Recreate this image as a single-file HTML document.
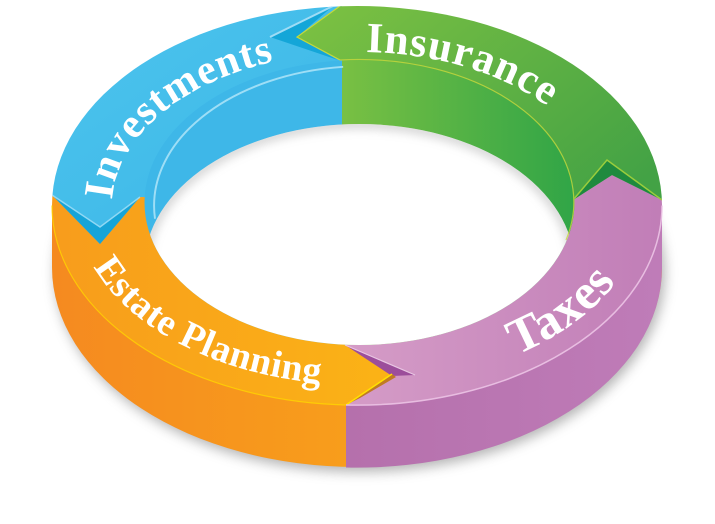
<!DOCTYPE html>
<html><head><meta charset="utf-8"><style>
html,body{margin:0;padding:0;background:#fff;width:715px;height:524px;overflow:hidden}
svg{display:block}
text{font-family:"Liberation Serif",serif;font-weight:bold;fill:#fff}
</style></head><body>
<svg width="715" height="524" viewBox="0 0 715 524" xmlns="http://www.w3.org/2000/svg">
<defs>
<filter id="blur" x="-20%" y="-50%" width="140%" height="200%"><feGaussianBlur stdDeviation="6"/></filter>
<filter id="blur2" x="-20%" y="-50%" width="140%" height="200%"><feGaussianBlur stdDeviation="5"/></filter>
<clipPath id="outer"><ellipse cx="357" cy="205.5" rx="305" ry="199.5"/></clipPath>
<clipPath id="inner"><ellipse cx="359.5" cy="202.5" rx="215" ry="142.5"/></clipPath>
<clipPath id="hole2"><ellipse cx="359.5" cy="266.5" rx="215" ry="142.5"/></clipPath>
<linearGradient id="gBlue" x1="0" y1="0" x2="1" y2="1"><stop offset="0" stop-color="#4fc6ee"/><stop offset="1" stop-color="#3bb6e7"/></linearGradient>
<linearGradient id="gGreen" x1="0" y1="0" x2="1" y2="0.6"><stop offset="0" stop-color="#80c342"/><stop offset="1" stop-color="#43a245"/></linearGradient>
<linearGradient id="gPurple" x1="0" y1="0" x2="1" y2="0"><stop offset="0" stop-color="#d59cc7"/><stop offset="1" stop-color="#bd78b4"/></linearGradient>
<linearGradient id="gOrange" x1="0" y1="0" x2="1" y2="0"><stop offset="0" stop-color="#f7981d"/><stop offset="1" stop-color="#fbb316"/></linearGradient>
<linearGradient id="wOrange" x1="0" y1="0" x2="1" y2="0"><stop offset="0" stop-color="#f58a20"/><stop offset="1" stop-color="#fbb216"/></linearGradient>
<linearGradient id="wPurple" x1="0" y1="0" x2="1" y2="0"><stop offset="0" stop-color="#b570ac"/><stop offset="1" stop-color="#bf7cb8"/></linearGradient>
<linearGradient id="iGreen" x1="0" y1="0" x2="1" y2="0"><stop offset="0" stop-color="#79c043"/><stop offset="1" stop-color="#2ea447"/></linearGradient>
<path id="topPath" d="M 112 206 A 247 154 0 0 1 606 206"/>
<path id="botPath" d="M 76 204 A 284 181 0 0 0 644 204"/>
</defs>

<ellipse cx="360" cy="272" rx="305" ry="200" fill="#777" opacity="0.55" filter="url(#blur)"/>

<path d="M 52 205.5 L 52 267.5 A 305 199.5 0 0 0 662 267.5 L 662 205.5 Z" fill="url(#wOrange)"/>
<path d="M 346 300 L 346 467.5 A 305 199.5 0 0 0 662 267.5 L 662 205.5 Z" fill="url(#wPurple)"/>

<g clip-path="url(#outer)">
  <polygon points="346,200 573,200 612,175 662,200 720,200 720,520 346,520 346,405 392,374 345,345" fill="url(#gPurple)"/>
  <polygon points="-10,195 52,195 100,244 140,197 346,200 345,345 392,374 346,405 346,520 -10,520" fill="url(#gOrange)"/>
  <polygon points="-10,-10 342,-10 342,200 140,197 100,244 52,195 -10,195" fill="url(#gBlue)"/>
  <polygon points="270,37 333,6 297,37 338,60" fill="#14a6d8"/>
  <polygon points="52,195 100,227 140,197 100,244" fill="#16a4d8"/>
  <polyline points="52,195 100,227 140,197" fill="none" stroke="#8fd8f4" stroke-width="1.5"/>
  <polyline points="270,37 333,6" fill="none" stroke="#9fdcf5" stroke-width="2"/>
  <polygon points="340,-10 720,-10 720,200 662,200 612,175 573,200 346,200 340,60 297,37 340,6" fill="url(#gGreen)"/>
  <polyline points="340,6 297,37 340,60" fill="none" stroke="#c6d93a" stroke-width="1.2"/>
  <polygon points="607,160 662,200 612,175 573,200" fill="#1f8a3e"/>
  <polyline points="573,200 607,160 662,200" fill="none" stroke="#9acd3c" stroke-width="1.5"/>
  <polygon points="345,345 415,375 392,376" fill="#9c4e9b"/>
  <polygon points="392,374 346,405 360,398 396,377" fill="#c07a24"/>
  <polyline points="345,345 415,375" fill="none" stroke="#e9c6e3" stroke-width="1.2"/>
  <polyline points="392,374 346,405" fill="none" stroke="#ffe100" stroke-width="1.5"/>
</g>
<path d="M 52 205.5 A 305 199.5 0 0 0 346 405" fill="none" stroke="#ffd600" stroke-width="1.2" opacity="0.8"/>
<path d="M 346 405 A 305 199.5 0 0 0 662 205.5" fill="none" stroke="#ecc4e5" stroke-width="1.5" opacity="0.9"/>

<g clip-path="url(#inner)">
  <rect x="140" y="50" width="202" height="320" fill="#3eb7e8"/>
  <rect x="342" y="50" width="240" height="320" fill="url(#iGreen)"/>
  <g clip-path="url(#hole2)">
    <rect x="0" y="0" width="715" height="524" fill="#fff"/>
    <ellipse cx="359.5" cy="266.5" rx="215" ry="142.5" fill="none" stroke="#999" stroke-width="8" opacity="0.5" filter="url(#blur2)"/>
  </g>
</g>
<path d="M 150 215 A 215 142.5 0 0 1 342 60" fill="none" stroke="#a8e2f7" stroke-width="2" opacity="0.9" transform="translate(8,8) scale(0.98)"/>
<path d="M 340 60 A 215 142.5 0 0 1 566 240" fill="none" stroke="#c8d83c" stroke-width="1.2" opacity="0.8"/>

<text font-size="42" letter-spacing="1"><textPath href="#topPath" startOffset="6">Investments</textPath></text>
<text font-size="43" letter-spacing="1"><textPath href="#topPath" startOffset="326">Insurance</textPath></text>
<text font-size="38" letter-spacing="0.5"><textPath href="#botPath" startOffset="66">Estate Planning</textPath></text>
<text font-size="50" letter-spacing="1"><textPath href="#botPath" startOffset="530">Taxes</textPath></text>
</svg>
</body></html>
